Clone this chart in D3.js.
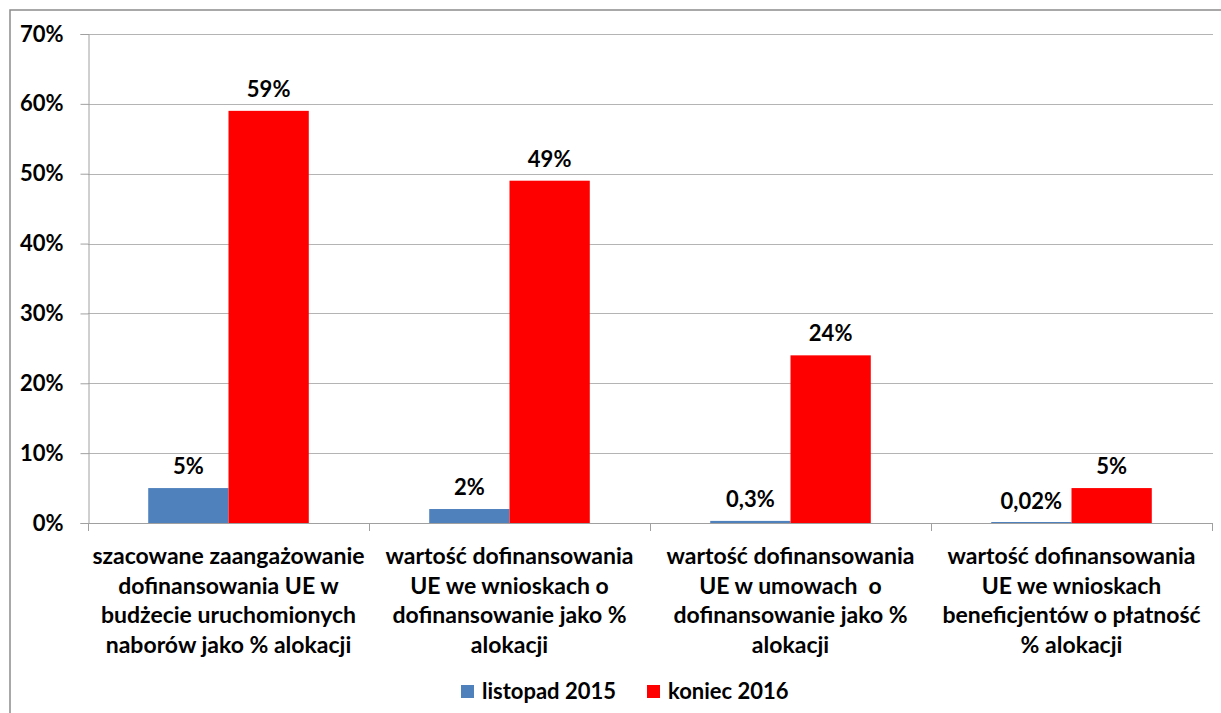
<!DOCTYPE html>
<meta charset="utf-8">
<style>
    body { margin: 0; background: #fff; }
    svg text { font-family: Lato, "Open Sans", sans-serif; font-weight: bold; fill: #000; white-space: pre; }
</style>
<svg id="chart" width="1221" height="713"></svg>
<script src="https://cdn.jsdelivr.net/npm/d3@7/dist/d3.min.js"></script>
<script>
    // category labels, already broken into lines as in the original
    const categories = [
        ["szacowane zaangażowanie", "dofinansowania UE w", "budżecie uruchomionych", "naborów jako % alokacji"],
        ["wartość dofinansowania", "UE we wnioskach o", "dofinansowanie jako %", "alokacji"],
        ["wartość dofinansowania", "UE w umowach  o", "dofinansowanie jako %", "alokacji"],
        ["wartość dofinansowania", "UE we wnioskach", "beneficjentów o płatność", "% alokacji"]
    ];
    const seriesNames = ["listopad 2015", "koniec 2016"];
    const listopad2015 = [5, 2, 0.3, 0.02];
    const koniec2016 = [59, 49, 24, 5];
    const yTicks = [0, 10, 20, 30, 40, 50, 60, 70];
    const colors = ["#4f81bd", "#ff0000"];

    const svg = d3.select("#chart");
    const plotLeft = 88, plotRight = 1212, plotTop = 34, plotBottom = 523;

    // chart frame (only top and left edges show in the picture)
    svg.append("path")
        .attr("d", "M10,713 L10,10 L1221,10")
        .attr("fill", "none")
        .attr("stroke", "#8c8c8c")
        .attr("stroke-width", 1.5);

    const x = d3.scaleBand().domain(d3.range(categories.length)).range([plotLeft, plotRight]);
    const x1 = d3.scaleBand().domain([0, 1]).range([0, x.bandwidth()]).paddingInner(0).paddingOuter(0.75);
    const y = d3.scaleLinear().domain([0, 70]).range([plotBottom, plotTop]);

    // gridlines
    svg.append("g").selectAll("line")
        .data(yTicks.slice(1))
        .join("line")
        .attr("x1", plotLeft).attr("x2", plotRight + 1)
        .attr("y1", d => Math.round(y(d)) + 0.5).attr("y2", d => Math.round(y(d)) + 0.5)
        .attr("stroke", "#b4b4b4");

    // y axis
    const yAxis = svg.append("g")
        .attr("transform", `translate(${plotLeft + 0.5},0)`)
        .call(d3.axisLeft(y).tickValues(yTicks).tickFormat(d => d + "%").tickSize(8).tickPadding(17));
    yAxis.select(".domain").attr("stroke", "#a0a0a0");
    yAxis.selectAll(".tick line").attr("stroke", "#a0a0a0");
    yAxis.selectAll(".tick text").style("font-size", "22px").attr("fill", "#000");

    // bars
    const series = [listopad2015, koniec2016];
    series.forEach((vals, s) => {
        svg.append("g").selectAll("rect")
            .data(vals)
            .join("rect")
            .attr("x", (d, i) => x(i) + x1(s))
            .attr("width", x1.bandwidth())
            .attr("y", d => Math.min(y(d), y(0) - 1))
            .attr("height", d => Math.max(1, y(0) - y(d)))
            .attr("fill", colors[s]);

        svg.append("g").selectAll("text")
            .data(vals)
            .join("text")
            .attr("x", (d, i) => x(i) + x1(s) + x1.bandwidth() / 2)
            .attr("y", d => y(d) - 14)
            .attr("text-anchor", "middle")
            .style("font-size", "22px")
            .text(d => String(d).replace(".", ",") + "%");
    });

    // x axis
    const xAxisG = svg.append("g");
    xAxisG.append("line")
        .attr("x1", plotLeft).attr("x2", plotRight + 1)
        .attr("y1", plotBottom + 0.5).attr("y2", plotBottom + 0.5)
        .attr("stroke", "#a0a0a0");
    xAxisG.selectAll(".bt")
        .data(d3.range(categories.length + 1))
        .join("line")
        .attr("x1", i => Math.round(plotLeft + i * x.bandwidth()) + 0.5)
        .attr("x2", i => Math.round(plotLeft + i * x.bandwidth()) + 0.5)
        .attr("y1", plotBottom).attr("y2", plotBottom + 8)
        .attr("stroke", "#a0a0a0");

    xAxisG.selectAll(".cat")
        .data(categories)
        .join("text")
        .attr("text-anchor", "middle")
        .style("font-size", "23px")
        .each(function (lines, i) {
            d3.select(this).selectAll("tspan")
                .data(lines)
                .join("tspan")
                .attr("x", x(i) + x.bandwidth() / 2)
                .attr("y", (l, k) => 564 + k * 29.5)
                .text(l => l);
        });

    // legend
    const legend = svg.append("g").attr("transform", "translate(461,685)");
    const legX = [0, 186];
    seriesNames.forEach((name, s) => {
        legend.append("rect")
            .attr("x", legX[s]).attr("y", 0)
            .attr("width", 13).attr("height", 13)
            .attr("fill", colors[s]);
        legend.append("text")
            .attr("x", legX[s] + 21).attr("y", 14)
            .style("font-size", "22px")
            .text(name);
    });
</script>
